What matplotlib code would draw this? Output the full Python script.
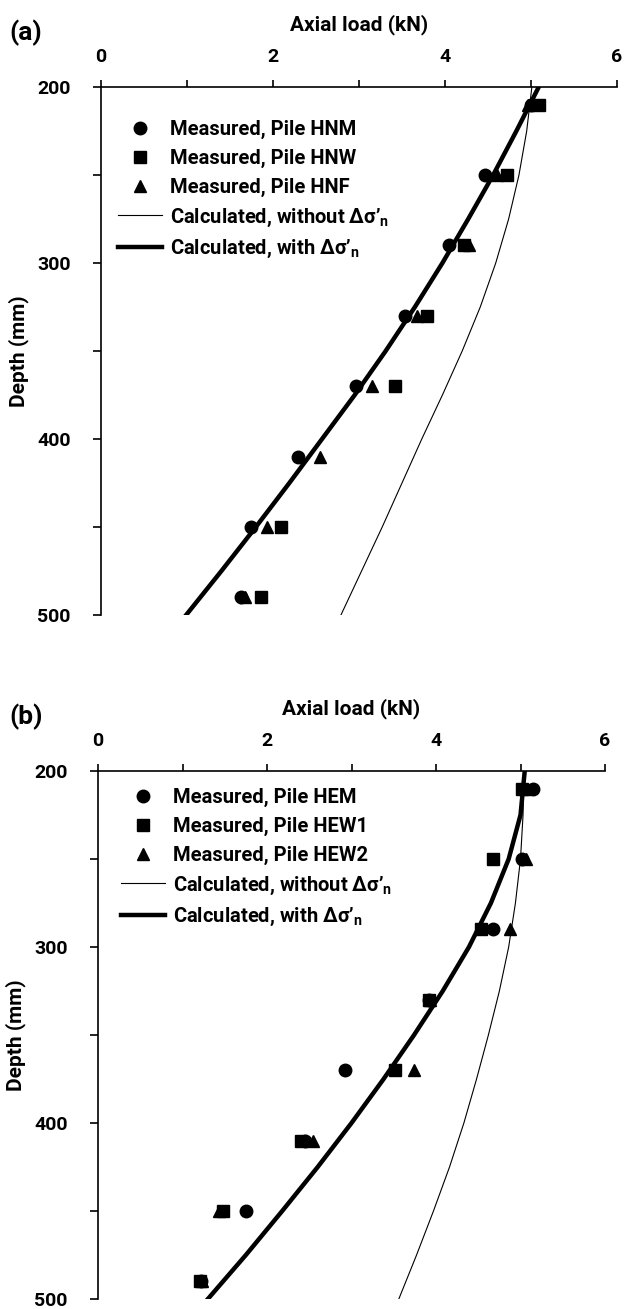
import numpy as np
import matplotlib.pyplot as plt
from matplotlib.ticker import MultipleLocator

plt.rcParams['font.family'] = ['Roboto', 'DejaVu Sans']
plt.rcParams['font.weight'] = 'bold'
plt.rcParams['mathtext.fontset'] = 'custom'
plt.rcParams['mathtext.bf'] = 'Roboto:bold'
plt.rcParams['mathtext.rm'] = 'Roboto:bold'

# ---- panel (a) data ----
depth_a = [210, 250, 290, 330, 370, 410, 450, 490]
hnm = [5.00, 4.47, 4.05, 3.54, 2.96, 2.29, 1.74, 1.63]
hnw = [5.09, 4.72, 4.22, 3.79, 3.42, np.nan, 2.09, 1.86]
hnf = [4.97, 4.60, 4.28, 3.68, 3.15, 2.55, 1.93, 1.68]

calc_depth_a = [200, 225, 250, 275, 300, 325, 350, 375, 400, 425, 450, 475, 500]
calc_without_a = [5.01, 4.95, 4.86, 4.74, 4.59, 4.41, 4.20, 3.97, 3.73, 3.50, 3.27, 3.03, 2.79]
calc_with_a = [5.09, 4.83, 4.56, 4.27, 3.97, 3.65, 3.31, 2.95, 2.57, 2.19, 1.80, 1.40, 0.99]

# ---- panel (b) data ----
depth_b = [210, 250, 290, 330, 370, 410, 450, 490]
hem = [5.15, 5.02, 4.68, 3.92, 2.92, 2.45, 1.75, 1.22]
hew1 = [5.02, 4.68, 4.53, 3.92, 3.51, 2.40, 1.48, 1.21]
hew2 = [5.05, 5.06, 4.88, 3.93, 3.74, 2.55, 1.43, 1.23]

calc_depth_b = [200, 225, 250, 275, 300, 325, 350, 375, 400, 425, 450, 475, 500]
calc_without_b = [5.04, 5.03, 5.00, 4.94, 4.86, 4.75, 4.62, 4.48, 4.33, 4.16, 3.97, 3.77, 3.56]
calc_with_b = [5.05, 5.00, 4.86, 4.65, 4.39, 4.08, 3.74, 3.38, 3.00, 2.60, 2.18, 1.75, 1.30]


def draw_panel(ax, depth, meas, names, cd, cwo, cw, tag, ax_h_px, ax_w_px, leg_xy):
    mk = ['o', 's', '^']
    for vals, m, n in zip(meas, mk, names):
        ax.plot(vals, depth, linestyle='none', marker=m, color='black',
                markersize=9, label='Measured, Pile ' + n)
    ax.plot(cwo, cd, color='black', lw=0.8,
            label="Calculated, without Δσ’$_{\\mathbf{n}}$")
    ax.plot(cw, cd, color='black', lw=3.2,
            label="Calculated, with Δσ’$_{\\mathbf{n}}$")

    ax.set_xlim(0, 6)
    ax.set_ylim(500, 200)
    ax.xaxis.tick_top()
    ax.xaxis.set_major_locator(MultipleLocator(2))
    ax.xaxis.set_minor_locator(MultipleLocator(1))
    ax.yaxis.set_major_locator(MultipleLocator(100))
    ax.yaxis.set_minor_locator(MultipleLocator(50))
    ax.tick_params(axis='x', which='both', direction='out', length=5, width=1.2, pad=10, labelsize=14)
    ax.tick_params(axis='y', which='both', direction='out', length=6, width=1.2, pad=16, labelsize=14)
    for sp in ['right', 'bottom']:
        ax.spines[sp].set_visible(False)
    ax.spines['top'].set_linewidth(1.2)
    ax.spines['left'].set_linewidth(1.2)

    xl = ax.set_xlabel('Axial load (kN)', fontsize=15, fontweight='bold')
    ax.xaxis.set_label_position('top')
    ax.xaxis.set_label_coords(0.5, 1 + 62 / ax_h_px)
    xl.set_va('center')
    yl = ax.set_ylabel('Depth (mm)', fontsize=15, fontweight='bold')
    ax.yaxis.set_label_coords(-82 / ax_w_px, 0.5)
    yl.set_va('center')

    ax.legend(loc='upper left', bbox_to_anchor=leg_xy, frameon=False,
              fontsize=14.5, handlelength=2.2, handletextpad=0.4, labelspacing=0.48,
              borderpad=0, borderaxespad=0)
    ax.text(-(ax.get_position().x0 * 627 - 9) / ax_w_px, 1 + 54 / ax_h_px, tag,
            transform=ax.transAxes, fontsize=19, fontweight='bold',
            ha='left', va='center')


fig = plt.figure(figsize=(6.27, 13.09), dpi=100)
ax1 = fig.add_axes([101 / 627, 1 - 615 / 1309, 516 / 627, 528 / 1309])
ax2 = fig.add_axes([98 / 627, 1 - 1299 / 1309, 507 / 627, 528 / 1309])

draw_panel(ax1, depth_a, [hnm, hnw, hnf], ['HNM', 'HNW', 'HNF'],
           calc_depth_a, calc_without_a, calc_with_a, '(a)', 528, 516,
           (17 / 516, 1 - 33 / 528))
draw_panel(ax2, depth_b, [hem, hew1, hew2], ['HEM', 'HEW1', 'HEW2'],
           calc_depth_b, calc_without_b, calc_with_b, '(b)', 528, 507,
           (23 / 507, 1 - 17 / 528))

plt.savefig('out.png', dpi=100)
